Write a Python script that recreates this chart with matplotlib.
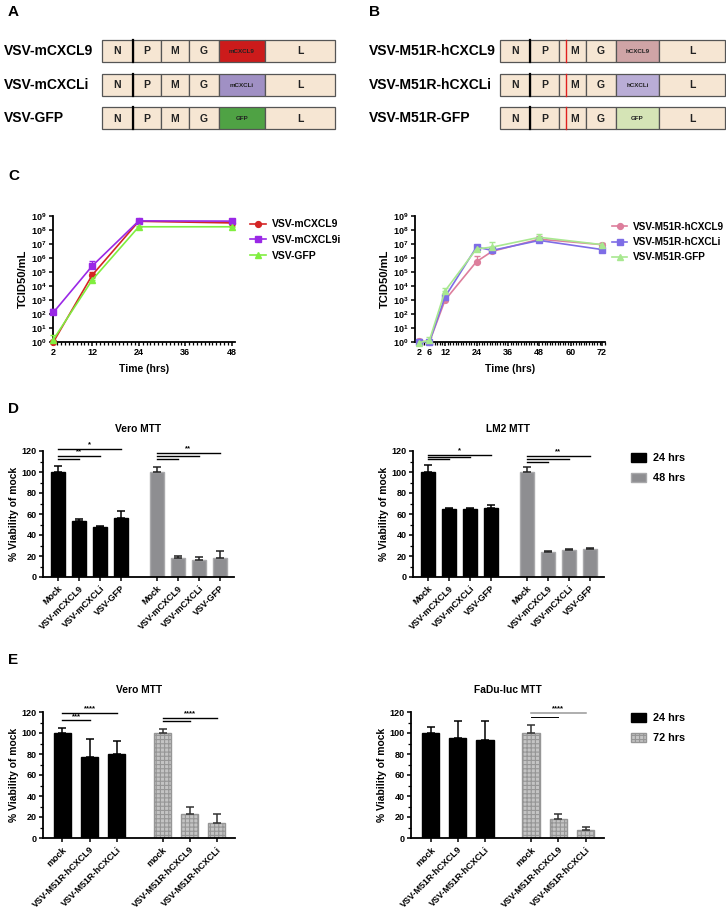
import matplotlib
matplotlib.use('Agg')
import matplotlib.pyplot as plt
import numpy as np
from matplotlib.patches import Rectangle, Patch
from matplotlib.lines import Line2D

plt.rcParams['font.family'] = ['Liberation Sans', 'DejaVu Sans']
plt.rcParams['font.weight'] = 'bold'
plt.rcParams['axes.labelweight'] = 'bold'
plt.rcParams['axes.titleweight'] = 'bold'
plt.rcParams['mathtext.fontset'] = 'custom'
plt.rcParams['mathtext.rm'] = 'Liberation Sans:bold'
plt.rcParams['mathtext.bf'] = 'Liberation Sans:bold'
plt.rcParams['mathtext.it'] = 'Liberation Sans:bold'
plt.rcParams['hatch.linewidth'] = 0.8

# ---------------- data ----------------
# Panels A / B (genome maps)
gene_names = ['N', 'P', 'M', 'G', None, 'L']
a_names = ['VSV-mCXCL9', 'VSV-mCXCLi', 'VSV-GFP']
a_inserts = ['mCXCL9', 'mCXCLi', 'GFP']
b_names = ['VSV-M51R-hCXCL9', 'VSV-M51R-hCXCLi', 'VSV-M51R-GFP']
b_inserts = ['hCXCL9', 'hCXCLi', 'GFP']

# Panel C left
c1_time = [2, 12, 24, 48]
c1_series = ['VSV-mCXCL9', 'VSV-mCXCL9i', 'VSV-GFP']
c1_mCXCL9 = [1.0, 6e4, 4.2e8, 3.2e8]
c1_mCXCL9_err = [0.3, 4e4, 5e7, 5e7]
c1_mCXCL9i = [1.3e2, 2.7e5, 4.5e8, 4.3e8]
c1_mCXCL9i_err = [9e1, 3.5e5, 5e7, 6e7]
c1_GFP = [1.5, 2.7e4, 1.7e8, 1.7e8]
c1_GFP_err = [1.6, 1.2e4, 2e7, 3e7]

# Panel C right
c2_time = [2, 6, 12, 24, 30, 48, 72]
c2_series = ['VSV-M51R-hCXCL9', 'VSV-M51R-hCXCLi', 'VSV-M51R-GFP']
c2_hCXCL9 = [1.2, 1.0, 1.0e3, 5.5e5, 3.0e6, 2.2e7, 9e6]
c2_hCXCL9_err = [0.5, 0.2, 3e2, 9e5, 1e6, 1.5e7, 3e6]
c2_hCXCLi = [1.0, 1.0, 1.7e3, 6e6, 3.5e6, 1.8e7, 4e6]
c2_hCXCLi_err = [0.2, 0.2, 6e2, 3e6, 1e6, 5e6, 1e6]
c2_GFP = [0.9, 1.3, 4.5e3, 4.5e6, 6e6, 3.0e7, 9e6]
c2_GFP_err = [0.2, 1.0, 3e3, 3e6, 7e6, 2e7, 3e6]

# Panel D
d_labels = ['Mock', 'VSV-mCXCL9', 'VSV-mCXCLi', 'VSV-GFP']
d_hours = ['24 hrs', '48 hrs']
d_vero_24 = [100, 53, 47.5, 56]
d_vero_24_err = [6, 2, 1, 6.5]
d_vero_48 = [100, 18.5, 16, 18.5]
d_vero_48_err = [5, 1.5, 3, 6]
d_lm2_24 = [100, 64.5, 64.5, 66]
d_lm2_24_err = [7, 1.5, 0.8, 3]
d_lm2_48 = [100, 23.5, 25.5, 27]
d_lm2_48_err = [5, 1.5, 0.7, 0.6]

# Panel E
e_labels = ['mock', 'VSV-M51R-hCXCL9', 'VSV-M51R-hCXCLi']
e_hours = ['24 hrs', '72 hrs']
e_vero_24 = [100, 77, 80]
e_vero_24_err = [5, 17, 12.5]
e_vero_72 = [100, 23, 14]
e_vero_72_err = [4, 6.5, 8.5]
e_fadu_24 = [100, 95.5, 93]
e_fadu_24_err = [6, 15.5, 18]
e_fadu_72 = [100, 18.5, 8]
e_fadu_72_err = [7.5, 4, 2.5]

# significance annotations: (group, from index, to index, height, label)
d_vero_sig = [(0, 0, 1, 112, ''), (0, 0, 2, 115, '**'), (0, 0, 3, 122, '*'),
              (1, 0, 1, 112, ''), (1, 0, 2, 115, ''), (1, 0, 3, 118, '**')]
d_lm2_sig = [(0, 0, 1, 112, ''), (0, 0, 2, 114, ''), (0, 0, 3, 116.5, '*'),
             (1, 0, 1, 109.5, ''), (1, 0, 2, 112, ''), (1, 0, 3, 115, '**')]
e_vero_sig = [(0, 0, 1, 112, '***'), (0, 0, 2, 119.5, '****'),
              (1, 0, 1, 111, ''), (1, 0, 2, 114.5, '****')]
e_fadu_sig = [(1, 0, 1, 115.5, ''), (1, 0, 2, 119, '****')]

# ---------------- figure ----------------
W, H = 726, 911
fig = plt.figure(figsize=(W / 100, H / 100), dpi=100)


def px_axes(l, t, r, b):
    return fig.add_axes([l / W, 1 - b / H, (r - l) / W, (b - t) / H])


# overlay for diagrams and panel letters
ov = fig.add_axes([0, 0, 1, 1])
ov.set_xlim(0, W)
ov.set_ylim(H, 0)
ov.axis('off')
ov.patch.set_alpha(0)

for lab, x, y in [('A', 8, 12), ('B', 369, 12), ('C', 8, 176), ('D', 8, 409), ('E', 8, 660)]:
    ov.text(x, y, lab, fontsize=11, fontweight='bold', ha='left', va='center')

beige = '#F6E6D3'
a_colors = ['#CC1B1B', '#A090C4', '#4FA244']
b_colors = ['#CFA4A6', '#B9ADD6', '#D5E4B6']
a_bounds = [102, 133, 161, 189, 219, 265, 335]
b_bounds = [500, 530, 559, 586, 616, 659, 725]
row_tops = [40, 74, 107]
row_h = 22


def draw_map(names, inserts, colors, bounds, label_x, mutant):
    for r, (nm, ins, col) in enumerate(zip(names, inserts, colors)):
        top = row_tops[r]
        ov.text(label_x, top + row_h / 2, nm, fontsize=10, fontweight='bold',
                ha='left', va='center')
        for k, g in enumerate(gene_names):
            x0, x1 = bounds[k], bounds[k + 1]
            fc = col if g is None else beige
            ov.add_patch(Rectangle((x0, top), x1 - x0, row_h, facecolor=fc,
                                   edgecolor='#555555', linewidth=0.9))
            txt = ins if g is None else g
            fs = 4.5 if g is None else 7.5
            cx = (x0 + x1) / 2
            if mutant and g == 'M':
                cx += 2
            ov.text(cx, top + row_h / 2 + 0.5, txt, fontsize=fs,
                    fontweight='bold', ha='center', va='center', color='#222222')
        # thick N/P border
        ov.plot([bounds[1], bounds[1]], [top, top + row_h], color='black', lw=1.6)
        if mutant:
            xm = bounds[2] + 7
            ov.plot([xm, xm], [top, top + row_h], color='#E02020', lw=1.0)


draw_map(a_names, a_inserts, a_colors, a_bounds, 4, False)
draw_map(b_names, b_inserts, b_colors, b_bounds, 369, True)

tick_fs = 6.5


def style_axes(ax):
    for s in ['top', 'right']:
        ax.spines[s].set_visible(False)
    for s in ['left', 'bottom']:
        ax.spines[s].set_linewidth(1.3)
    ax.tick_params(axis='both', which='major', labelsize=tick_fs, width=1.1,
                   length=3, pad=1.5)
    ax.tick_params(axis='both', which='minor', width=0.9, length=2)


# ---- Panel C ----
def growth(ax, times, series, vals, errs, colors, markers, xlim, xticks,
           leg_xy, leg_fs):
    handles = []
    for name, v, e, c, m in zip(series, vals, errs, colors, markers):
        ax.errorbar(times, v, yerr=[np.zeros(len(e)), e], color=c, marker=m,
                    markersize=4.2, lw=1.2, capsize=2.2, elinewidth=1.0,
                    capthick=1.0, clip_on=False, zorder=3)
        handles.append(Line2D([], [], color=c, marker=m, markersize=4.2,
                              lw=1.2, label=name))
    ax.set_yscale('log')
    ax.set_ylim(1, 1e9)
    ax.set_yticks([10.0 ** k for k in range(10)])
    ax.set_yticklabels([r'$10^{%d}$' % k for k in range(10)])
    ax.yaxis.set_minor_locator(matplotlib.ticker.NullLocator())
    ax.set_xlim(*xlim)
    ax.set_xticks(xticks)
    ax.set_xticks(np.arange(2, xlim[1], 1), minor=True)
    style_axes(ax)
    ax.set_ylabel('TCID50/mL', fontsize=8, labelpad=2)
    ax.set_xlabel('Time (hrs)', fontsize=7.5, labelpad=5)
    ax.legend(handles=handles, loc='center left', bbox_to_anchor=leg_xy,
              bbox_transform=fig.transFigure, frameon=False, fontsize=leg_fs,
              handlelength=1.5, handletextpad=0.6, labelspacing=0.55,
              borderaxespad=0, borderpad=0)


axc1 = px_axes(53, 216, 235, 342)
growth(axc1, c1_time, c1_series, [c1_mCXCL9, c1_mCXCL9i, c1_GFP],
       [c1_mCXCL9_err, c1_mCXCL9i_err, c1_GFP_err],
       ['#D42525', '#9A28E6', '#80EE3F'], ['o', 's', '^'],
       (1.9, 48.8), [2, 12, 24, 36, 48], (250 / W, 1 - 240 / H), 7.5)

axc2 = px_axes(415, 216, 605, 342)
growth(axc2, c2_time, c2_series, [c2_hCXCL9, c2_hCXCLi, c2_GFP],
       [c2_hCXCL9_err, c2_hCXCLi_err, c2_GFP_err],
       ['#DD7E9C', '#7E6DE6', '#A8E890'], ['o', 's', '^'],
       (0.5, 73.1), [2, 6, 12, 24, 36, 48, 60, 72], (612 / W, 1 - 242 / H), 7.2)


# ---- Bar panels ----
def bar_panel(ax, labels, g1, g1e, g2, g2e, gap, width, styles, sigs, title):
    n = len(labels)
    pos = [np.arange(n), np.arange(n) + n + gap]
    for p, v, e, st in zip(pos, [g1, g2], [g1e, g2e], styles):
        ax.bar(p, v, width=width, color=st['fc'], edgecolor=st['ec'],
               hatch=st.get('hatch'), linewidth=1.0, zorder=2)
        ax.errorbar(p, v, yerr=[np.zeros(n), e], fmt='none', ecolor=st['err'],
                    elinewidth=1.1, capsize=2.8, capthick=1.1, zorder=3)
    ax.set_ylim(0, 120)
    ax.set_yticks(np.arange(0, 121, 20))
    ax.set_yticks(np.arange(0, 121, 10), minor=True)
    ax.set_xlim(-0.72, pos[1][-1] + 0.68)
    ax.set_xticks(np.concatenate(pos))
    ax.set_xticklabels(list(labels) * 2, rotation=45, ha='right',
                       rotation_mode='anchor', fontsize=tick_fs)
    ax.xaxis.set_minor_locator(matplotlib.ticker.NullLocator())
    style_axes(ax)
    ax.tick_params(axis='x', which='major', pad=2)
    ax.set_ylabel('% Viability of mock', fontsize=7.4, labelpad=2)
    ax.set_title(title, fontsize=7.4, pad=14)
    for g, i0, i1, h, lab, *rest in sigs:
        col = rest[0] if rest else 'black'
        x0, x1 = pos[g][i0], pos[g][i1]
        ax.plot([x0, x1], [h, h], color=col, lw=rest[1] if len(rest) > 1 else 1.0,
                clip_on=False, zorder=4)
        if lab:
            ax.text((x0 + x1) / 2, h + 0.5, lab, fontsize=5.5, ha='center',
                    va='bottom', fontweight='bold')
    return pos


black_st = {'fc': 'black', 'ec': 'black', 'err': 'black'}
gray_st = {'fc': '#8E8E91', 'ec': '#A9A9AB', 'err': '#222222'}
check_st = {'fc': '#C4C4C4', 'ec': '#969696', 'err': '#333333', 'hatch': '++++'}

axd1 = px_axes(43, 451, 234, 577)
bar_panel(axd1, d_labels, d_vero_24, d_vero_24_err, d_vero_48, d_vero_48_err,
          0.71, 0.66, [black_st, gray_st], d_vero_sig, 'Vero MTT')
axd2 = px_axes(413, 451, 604, 577)
bar_panel(axd2, d_labels, d_lm2_24, d_lm2_24_err, d_lm2_48, d_lm2_48_err,
          0.71, 0.66, [black_st, gray_st], d_lm2_sig, 'LM2 MTT')
fig.legend(handles=[Patch(facecolor='black', edgecolor='black', label=d_hours[0]),
                    Patch(facecolor='#8E8E91', edgecolor='#A9A9AB', label=d_hours[1])],
           loc='center left', bbox_to_anchor=(631 / W, 1 - 468 / H), frameon=False,
           fontsize=7.8, handlelength=1.4, handleheight=0.9, handletextpad=0.6,
           labelspacing=0.9, borderaxespad=0, borderpad=0)

axe1 = px_axes(43, 712, 235, 838)
bar_panel(axe1, e_labels, e_vero_24, e_vero_24_err, e_vero_72, e_vero_72_err,
          0.7, 0.64, [black_st, check_st], e_vero_sig, 'Vero MTT')
axe2 = px_axes(411, 712, 604, 838)
e_fadu_sig_styled = [(1, 0, 1, 115.5, '', 'black', 0.7),
                     (1, 0, 2, 119, '****', '#999999', 1.1)]
bar_panel(axe2, e_labels, e_fadu_24, e_fadu_24_err, e_fadu_72, e_fadu_72_err,
          0.7, 0.64, [black_st, check_st], e_fadu_sig_styled, 'FaDu-luc MTT')
fig.legend(handles=[Patch(facecolor='black', edgecolor='black', label=e_hours[0]),
                    Patch(facecolor='#C4C4C4', edgecolor='#969696', hatch='++++',
                          label=e_hours[1])],
           loc='center left', bbox_to_anchor=(631 / W, 1 - 728 / H), frameon=False,
           fontsize=7.8, handlelength=1.4, handleheight=0.9, handletextpad=0.6,
           labelspacing=0.9, borderaxespad=0, borderpad=0)

fig.savefig('out.png', dpi=100)
